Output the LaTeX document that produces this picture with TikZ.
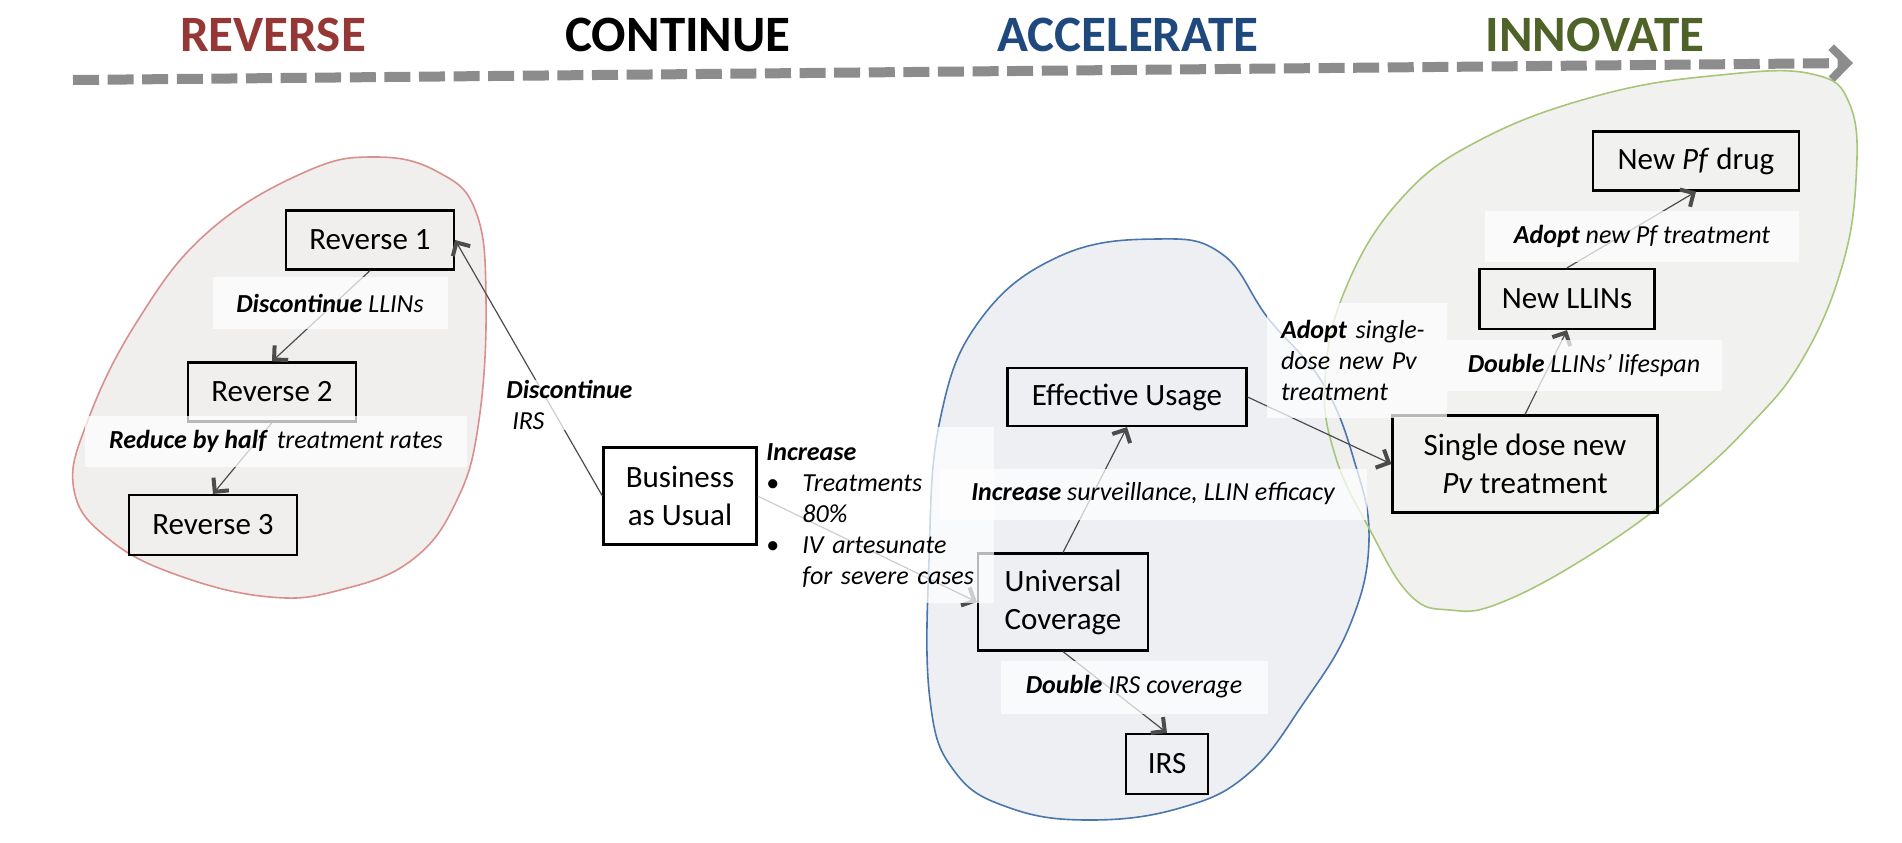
\documentclass[tikz,border=0pt]{standalone}
\usepackage{fontspec}
\setmainfont{Carlito}
\usetikzlibrary{arrows.meta}

\definecolor{revred}{HTML}{953735}
\definecolor{accblue}{HTML}{1F497D}
\definecolor{innogreen}{HTML}{4F6228}
\definecolor{blob_red}{HTML}{D98F8C}
\definecolor{blob_blue}{HTML}{4A76AD}
\definecolor{blob_green}{HTML}{A8C67A}
\definecolor{fill_blue}{HTML}{EDEFF2}
\definecolor{fill_gray}{HTML}{F0EFEE}

\begin{document}
\begin{tikzpicture}[
    x=0.5pt, y=-0.5pt,
    phase_lbl/.style={font=\fontsize{25.5}{30}\selectfont\bfseries},
    box_st/.style={draw, line width=1.1pt, align=center, inner sep=0pt,
      font=\fontsize{15.5}{19}\selectfont},
    lbl_bg/.style={fill=white, fill opacity=0.72, text opacity=1, inner sep=0pt,
      font=\fontsize{13}{15.5}\selectfont\itshape},
    flow/.style={draw=black!70, line width=0.6pt,
      -{Straight Barb[length=5pt,width=10pt,line width=2pt]}}
  ]
    \useasboundingbox (0,0) rectangle (1902,842);

    % timeline
    \draw[black!45, line width=5pt, dash pattern=on 13pt off 4.3pt,
      -{Straight Barb[length=8pt,width=16pt,line width=4pt]}]
      (73,80) -- (1853,63);
    \node[phase_lbl, text=revred] (t_rev) at (273,35) {REVERSE};
    \node[phase_lbl] (t_cont) at (678,35) {CONTINUE};
    \node[phase_lbl, text=accblue] (t_acc) at (1128,35) {ACCELERATE};
    \node[phase_lbl, text=innogreen] (t_inno) at (1595,35) {INNOVATE};

    % groups
    \filldraw[draw=blob_red, fill=fill_gray, line width=0.8pt]
      plot[smooth cycle, tension=0.7] coordinates {(376,157) (438,172) (476,212)
      (486,300) (479,420) (457,500) (412,560) (340,590) (270,597) (180,576)
      (110,540) (74,490) (88,420) (138,320) (208,232) (305,172)};
    \fill[fill=fill_blue]
      plot[smooth cycle, tension=0.7] coordinates {(1157,239) (1222,254)
      (1268,318) (1322,382) (1354,460) (1369,540) (1350,625) (1303,704)
      (1248,774) (1180,808) (1090,820) (1010,808) (955,772) (930,700) (929,560)
      (940,420) (980,320) (1060,256)};
    \fill[fill=fill_gray, fill opacity=0.9]
      plot[smooth cycle, tension=0.7] coordinates {(1812,74) (1850,105)
      (1856,180) (1841,270) (1802,360) (1750,425) (1680,490) (1590,555)
      (1500,603) (1450,610) (1410,595) (1370,530) (1335,455) (1325,380)
      (1345,290) (1400,200) (1480,140) (1600,95) (1720,75)};
    \draw[blob_blue, line width=0.8pt]
      plot[smooth cycle, tension=0.7] coordinates {(1157,239) (1222,254)
      (1268,318) (1322,382) (1354,460) (1369,540) (1350,625) (1303,704)
      (1248,774) (1180,808) (1090,820) (1010,808) (955,772) (930,700) (929,560)
      (940,420) (980,320) (1060,256)};
    \draw[blob_green, line width=0.8pt]
      plot[smooth cycle, tension=0.7] coordinates {(1812,74) (1850,105)
      (1856,180) (1841,270) (1802,360) (1750,425) (1680,490) (1590,555)
      (1500,603) (1450,610) (1410,595) (1370,530) (1335,455) (1325,380)
      (1345,290) (1400,200) (1480,140) (1600,95) (1720,75)};

    % boxes
    \node[box_st, minimum width=84pt, minimum height=29.5pt] (rev1) at (370,240) {Reverse 1};
    \node[box_st, minimum width=84pt, minimum height=29.5pt] (rev2) at (272,392) {Reverse 2};
    \node[box_st, minimum width=84pt, minimum height=30pt] (rev3) at (213,525) {Reverse 3};
    \node[box_st, fill=white, minimum width=76.5pt, minimum height=48.5pt] (bau) at (680,496) {Business\\as Usual};
    \node[box_st, minimum width=119.5pt, minimum height=29pt] (eff) at (1127,397) {Effective Usage};
    \node[box_st, minimum width=85pt, minimum height=48.5pt] (univ) at (1063,602) {Universal\\Coverage};
    \node[box_st, minimum width=41pt, minimum height=30pt] (irs) at (1167,764) {IRS};
    \node[box_st, minimum width=132.5pt, minimum height=48.5pt] (single) at (1525,464) {Single dose new\\\textit{Pv} treatment};
    \node[box_st, minimum width=87.5pt, minimum height=30pt] (llin) at (1567,299) {New LLINs};
    \node[box_st, minimum width=103pt, minimum height=29.5pt] (pf) at (1696,161) {New \textit{Pf} drug};

    % connectors
    \draw[flow] (rev1.south) -- (rev2.north);
    \draw[flow] (rev2.south) -- (rev3.north);
    \draw[flow] (bau.west) -- (rev1.east);
    \draw[flow] (bau.east) -- (univ.west);
    \draw[flow] (univ.north) -- (eff.south);
    \draw[flow] (univ.south) -- (irs.north);
    \draw[flow] (eff.east) -- (single.west);
    \draw[flow] (single.north) -- (llin.south);
    \draw[flow] (llin.north) -- (pf.south);

    % labels
    \node[lbl_bg, minimum width=117.5pt, minimum height=26pt] (l_llin) at (330,303)
      {\textbf{Discontinue} LLINs};
    \node[lbl_bg, minimum width=191pt, minimum height=25.5pt] (l_half) at (276,441)
      {\textbf{Reduce by half}\, treatment rates};
    \node[lbl_bg, anchor=north west, align=left] (l_irs) at (506,380)
      {\textbf{Discontinue}\\\hspace*{3pt}IRS};
    \node[lbl_bg, anchor=north west, text width=110pt, inner xsep=4pt, inner ysep=5pt,
      minimum height=88pt, align=left] (l_incr) at (758,427)
      {\textbf{Increase}\\
       \makebox[18pt][l]{\upshape\textbullet}Treatments\\
       \hspace*{18pt}80\%\\
       \makebox[18pt][l]{\upshape\textbullet}IV artesunate\\
       \hspace*{18pt}for severe cases};
    \node[lbl_bg, minimum width=213.5pt, minimum height=25.5pt] (l_surv) at (1153,494)
      {\textbf{Increase} surveillance, LLIN efficacy};
    \node[lbl_bg, minimum width=133.5pt, minimum height=26.5pt] (l_dirs) at (1134,687)
      {\textbf{Double} IRS coverage};
    \node[lbl_bg, text width=76pt, inner xsep=7pt, minimum height=57.5pt, align=left] (l_pv) at (1357,360)
      {\textbf{Adopt} single-\\dose new Pv\\treatment};
    \node[lbl_bg, minimum width=137.5pt, minimum height=25.5pt] (l_life) at (1584,365)
      {\textbf{Double} LLINs’ lifespan};
    \node[lbl_bg, minimum width=157pt, minimum height=25.5pt] (l_pf) at (1642,236)
      {\textbf{Adopt} new Pf treatment};
  \end{tikzpicture}
\end{document}
